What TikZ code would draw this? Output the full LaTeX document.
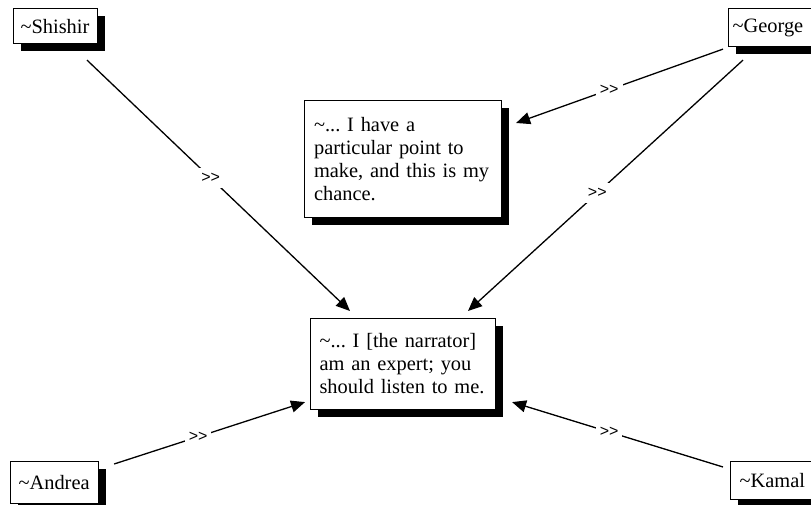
\documentclass[tikz,border=0pt]{standalone}
\usepackage{fontspec}
\setmainfont{Liberation Serif}
\newfontfamily\lblfont{Liberation Sans}
\usetikzlibrary{arrows.meta,shadows}
\frenchspacing
\begin{document}
\begin{tikzpicture}[x=1pt,y=-1pt,
  card/.style={draw=black, line width=1.1pt, fill=white, anchor=north west,
    align=left, inner ysep=0pt,
    font=\fontsize{20.4}{23}\selectfont,
    drop shadow={shadow xshift=7pt, shadow yshift=-7pt, fill=black, opacity=1}},
  link/.style={line width=1.3pt, -{Triangle[length=14pt,width=12pt]}},
  tag/.style={fill=white, inner xsep=4pt, inner ysep=5pt,
    font=\lblfont\fontsize{16}{16}\selectfont}]
\useasboundingbox (0,0) rectangle (811,504);

% people
\node[card, inner xsep=7pt, text width=70pt, minimum height=35pt] (shishir) at (13,8) {\textasciitilde Shishir};
\node[card, inner xsep=4pt, text width=82pt, minimum height=38pt] (george) at (728,8) {\textasciitilde George};
\node[card, inner xsep=8pt, text width=72pt, minimum height=42pt] (andrea) at (10,461) {\textasciitilde Andrea};
\node[card, inner xsep=9pt, text width=72pt, minimum height=38pt] (kamal) at (730,461) {\textasciitilde Kamal};

% statements
\node[card, inner xsep=9.5pt, text width=178pt, minimum height=117pt] (point) at (304,100)
  {\mbox{\textasciitilde... I have a}\\\mbox{particular point to}\\\mbox{make, and this is my}\\\mbox{chance.}};
\node[card, inner xsep=9pt, text width=167pt, minimum height=91pt] (expert) at (310,318)
  {\mbox{\textasciitilde... I [the narrator]}\\\mbox{am an expert; you}\\\mbox{should listen to me.}};

% connectors
\draw[link] ([xshift=74pt,yshift=-16pt]shishir.south west)
  -- node[tag, pos=0.47] {>>} ([xshift=40pt,yshift=7pt]expert.north west);
\draw[link] ([xshift=-5pt,yshift=-2pt]george.south west)
  -- node[tag, pos=0.55] {>>} ([xshift=14pt,yshift=-23pt]point.north east);
\draw[link] ([xshift=15pt,yshift=-13pt]george.south west)
  -- node[tag, pos=0.53] {>>} ([xshift=158pt,yshift=7pt]expert.north west);
\draw[link] ([xshift=15pt,yshift=-3pt]andrea.north east)
  -- node[tag, pos=0.44] {>>} ([xshift=-5pt,yshift=8pt]expert.south west);
\draw[link] ([xshift=-7pt,yshift=-6pt]kamal.north west)
  -- node[tag, pos=0.54] {>>} ([xshift=16pt,yshift=8pt]expert.south east);
\end{tikzpicture}
\end{document}
